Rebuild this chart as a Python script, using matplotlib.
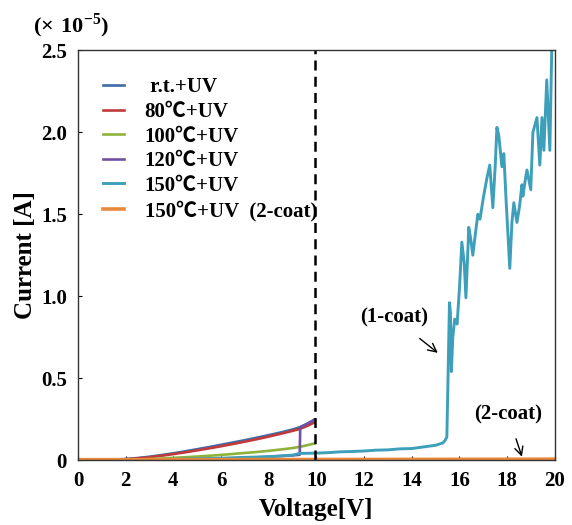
import matplotlib
matplotlib.use("Agg")
import matplotlib.pyplot as plt

plt.rcParams['font.family'] = ['Liberation Serif', 'Noto Sans CJK JP']
plt.rcParams['font.weight'] = 'bold'
plt.rcParams['mathtext.fontset'] = 'custom'
plt.rcParams['mathtext.rm'] = 'Liberation Serif:bold'
plt.rcParams['mathtext.bf'] = 'Liberation Serif:bold'

# ---------------- data (current in units of 1e-5 A) ----------------
v_low = [0, 1, 2, 2.5, 3, 3.5, 4, 4.5, 5, 5.5, 6, 6.5, 7, 7.5, 8, 8.5, 9, 9.3, 9.6, 9.9]
i_rt = [0, 0, 0.006, 0.012, 0.02, 0.03, 0.041, 0.053, 0.066, 0.079, 0.093, 0.107, 0.121,
        0.136, 0.152, 0.168, 0.186, 0.2, 0.22, 0.245]
i_80 = [0, 0, 0.004, 0.01, 0.017, 0.026, 0.036, 0.047, 0.059, 0.071, 0.084, 0.098, 0.112,
        0.127, 0.143, 0.16, 0.178, 0.19, 0.207, 0.228]
i_100 = [0, 0, 0.001, 0.003, 0.006, 0.009, 0.013, 0.017, 0.021, 0.026, 0.031, 0.037, 0.043,
         0.049, 0.056, 0.064, 0.073, 0.08, 0.09, 0.10]

v_120 = [0, 2, 3, 4, 5, 6, 7, 8, 9, 9.3, 9.32, 9.4, 9.6, 9.8, 9.9]
i_120 = [0, 0, 0.002, 0.004, 0.006, 0.009, 0.013, 0.02, 0.028, 0.032, 0.2, 0.205, 0.22, 0.235, 0.245]

v_150 = [0, 2, 3, 4, 5, 6, 7, 8, 9, 9.3, 10, 10.5, 11, 11.5, 12, 12.5, 13, 13.5, 14, 14.5,
         15, 15.3, 15.4, 15.47, 15.52, 15.58, 15.62, 15.66, 15.72, 15.8, 15.9, 16.0,
         16.1, 16.2, 16.27, 16.33, 16.39, 16.47, 16.56, 16.65, 16.77, 16.86, 17.0, 17.15,
         17.27, 17.4, 17.5, 17.57, 17.65, 17.78, 17.86, 17.95, 18.11, 18.2, 18.28, 18.41,
         18.52, 18.62, 18.66, 18.75, 18.83, 18.99, 19.08, 19.25, 19.37, 19.46, 19.54,
         19.66, 19.79, 19.87]
i_150 = [0, 0, 0.002, 0.004, 0.007, 0.011, 0.016, 0.02, 0.03, 0.04, 0.042, 0.045, 0.05, 0.052,
         0.055, 0.06, 0.062, 0.068, 0.07, 0.08, 0.09, 0.104, 0.12, 0.14, 0.5, 0.96, 0.9, 0.54,
         0.75, 0.86, 0.83, 1.05, 1.33, 1.2, 0.99, 1.2, 1.42, 1.35, 1.25, 1.36, 1.5, 1.47,
         1.6, 1.72, 1.8, 1.54, 1.8, 2.03, 1.98, 1.79, 1.87, 1.6, 1.17, 1.45, 1.57, 1.45,
         1.55, 1.68, 1.61, 1.7, 1.77, 1.65, 2.0, 2.09, 1.8, 2.09, 1.89, 2.32, 1.89, 2.5]

v_2coat = [0, 5, 10, 15, 20]
i_2coat = [0.002, 0.002, 0.003, 0.004, 0.005]

labels = [' r.t.+UV', '80\u2103+UV', '100\u2103+UV', '120\u2103+UV', '150\u2103+UV',
          '150\u2103+UV  (2-coat)']
colors = ['#3b6ea8', '#c0393b', '#8db33a', '#7150a0', '#3e9fba', '#e8883a']

xticks = [0, 2, 4, 6, 8, 10, 12, 14, 16, 18, 20]
yticks = [0, 0.5, 1.0, 1.5, 2.0, 2.5]
yticklabels = ['0', '0.5', '1.0', '1.5', '2.0', '2.5']

# ---------------- figure ----------------
fig = plt.figure(figsize=(5.72, 5.25), dpi=100)
ax = fig.add_axes([0.1364, 0.1238, 0.8336, 0.7802])

lw = 1.9
ax.plot(v_low, i_rt, color=colors[0], lw=lw, label=labels[0])
ax.plot(v_low, i_80, color=colors[1], lw=lw, label=labels[1])
ax.plot(v_low, i_100, color=colors[2], lw=lw, label=labels[2])
ax.plot(v_120, i_120, color=colors[3], lw=lw, label=labels[3])
ax.plot(v_150, i_150, color=colors[4], lw=2.1, label=labels[4])
ax.plot(v_2coat, i_2coat, color=colors[5], lw=2.6, label=labels[5])

ax.axvline(9.95, color='black', lw=1.8, ls=(0, (4, 2.5)))

ax.set_xlim(0, 20)
ax.set_ylim(0, 2.5)
ax.set_xticks(xticks)
ax.set_xticklabels([str(t) for t in xticks], fontsize=15, fontweight='bold')
ax.set_yticks(yticks)
ax.set_yticklabels(yticklabels, fontsize=15, fontweight='bold')
ax.tick_params(axis='x', direction='in', length=3, width=0.8, pad=8)
ax.tick_params(axis='y', direction='in', length=3, width=0.8, pad=8)
for s in ax.spines.values():
    s.set_linewidth(1.0)
    s.set_color('#333333')

ax.set_xlabel('Voltage[V]', fontsize=18, fontweight='bold', labelpad=5)
ax.set_ylabel('Current [A]', fontsize=18, fontweight='bold', labelpad=3)

fig.text(0.058, 0.952, r'$(\times\ 10^{-5})$', fontsize=16, ha='left', va='center')

leg = ax.legend(loc='upper left', frameon=False, handlelength=1.0,
                handletextpad=1.0, labelspacing=0.22, bbox_to_anchor=(0.013, 0.98),
                prop={'weight': 'bold', 'size': 15})

ax.annotate('(1-coat)', xy=(15.09, 0.654), xytext=(13.25, 0.867), ha='center', va='center',
            fontsize=15, fontweight='bold',
            arrowprops=dict(arrowstyle='->', color='black', lw=1.0, shrinkA=9, shrinkB=0))
ax.annotate('(2-coat)', xy=(18.62, 0.02), xytext=(18.03, 0.28), ha='center', va='center',
            fontsize=15, fontweight='bold',
            arrowprops=dict(arrowstyle='->', color='black', lw=1.0, shrinkA=9, shrinkB=0))

fig.savefig('out.png', dpi=100)
